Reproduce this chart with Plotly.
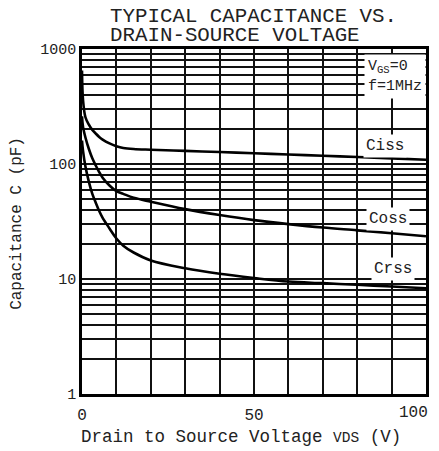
import math
import plotly.graph_objects as go

# ---- data ----
vds = [0, 0.3, 1, 2, 3, 4, 5, 6, 8, 10, 12, 15, 20, 30, 40, 50, 60, 70, 80, 90, 100]
ciss = [650, 360, 255, 220, 198, 184, 172, 163, 151, 143, 138, 135, 133, 130, 127, 124, 121, 118, 115, 112, 109]
coss = [260, 210, 170, 135, 112, 97, 85, 76, 65, 58, 55, 51, 47, 40.5, 36, 32.5, 30, 28, 26.5, 25, 23.5]
crss = [160, 130, 95, 70, 55, 46, 39, 34, 27.5, 22.5, 19.5, 17, 14.5, 12.4, 11.1, 10.2, 9.5, 9.2, 8.9, 8.6, 8.3]

y_tickvals = [m * 10 ** e for e in range(0, 3) for m in range(1, 10)] + [1000]
y_ticktext = [str(v) if v in (1, 10, 100, 1000) else "" for v in y_tickvals]
x_tickvals = list(range(0, 101, 10))
x_ticktext = [str(v) if v in (0, 50) else "" for v in x_tickvals]
x_last_label = "100"

series_labels = ["Ciss", "Coss", "Crss"]
label_pos = [(88, 143), (89, 33), (90.5, 12.2)]

FONT = "Liberation Mono, Courier New, monospace"

# page is rendered with an 8px body margin, so compensate
fig = go.Figure()
for name, vals in zip(series_labels, [ciss, coss, crss]):
    fig.add_trace(go.Scatter(x=vds, y=vals, mode="lines", name=name,
                             line=dict(color="black", width=2.6, shape="spline", smoothing=1.0),
                             showlegend=False, hoverinfo="skip"))

fig.update_layout(
    width=431, height=443,
    margin=dict(l=74, r=13, t=41, b=57, autoexpand=False),
    paper_bgcolor="white", plot_bgcolor="white",
    font=dict(family=FONT, color="black", size=15),
)
fig.update_xaxes(range=[0, 100], tickvals=x_tickvals, ticktext=x_ticktext, automargin=False,
                 showgrid=True, gridcolor="#111", gridwidth=1.6,
                 showline=True, linecolor="black", linewidth=2.5, mirror=True,
                 ticks="outside", ticklen=4, tickcolor="rgba(0,0,0,0)",
                 tickfont=dict(size=16, family=FONT, color="#222"), zeroline=False)
fig.update_yaxes(type="log", range=[0, 3], tickvals=y_tickvals, ticktext=y_ticktext, automargin=False,
                 showgrid=True, gridcolor="#111", gridwidth=1.6,
                 showline=True, linecolor="black", linewidth=2.5, mirror=True,
                 ticks="", tickfont=dict(size=15, family=FONT, color="#222"), zeroline=False)

# last x tick label, kept inside the visible page
fig.add_annotation(x=x_tickvals[-1], y=(394 - 413) / 345, xref="x", yref="paper",
                   xanchor="right", yanchor="middle", xshift=4, text=x_last_label,
                   showarrow=False, font=dict(size=16, family=FONT, color="#222"))

for name, (lx, ly) in zip(series_labels, label_pos):
    fig.add_annotation(x=lx, y=math.log10(ly), xref="x", yref="y", text=name,
                       showarrow=False, bgcolor="white", borderpad=2, yanchor="middle",
                       font=dict(size=16, family=FONT, color="#222"))

fig.add_annotation(x=1.0, y=0.985, xref="paper", yref="paper", xanchor="right", yanchor="top",
                   text="V<sub>GS</sub>=0<br>f=1MHz", align="left", showarrow=False,
                   bgcolor="white", borderpad=3, font=dict(size=15, family=FONT, color="#222"))

fig.add_annotation(x=(108 - 82) / 344, y=(394 - 16) / 345, xref="paper", yref="paper",
                   xanchor="left", yanchor="middle", text="TYPICAL CAPACITANCE VS.",
                   showarrow=False, font=dict(size=20.8, family=FONT, color="#222"))
fig.add_annotation(x=(108 - 82) / 344, y=(394 - 35) / 345, xref="paper", yref="paper",
                   xanchor="left", yanchor="middle", text="DRAIN-SOURCE VOLTAGE",
                   showarrow=False, font=dict(size=20.8, family=FONT, color="#222"))

fig.add_annotation(x=-0.189, y=0.496, xref="paper", yref="paper", textangle=-90,
                   xanchor="center", yanchor="middle",
                   text="Capacitance C (pF)", showarrow=False,
                   font=dict(size=16, family=FONT, color="#222"))
fig.add_annotation(x=(241 - 82) / 344, y=(394 - 437) / 345, xref="paper", yref="paper",
                   xanchor="center", yanchor="middle",
                   text="Drain to Source Voltage <span style='font-size:14.5px'>VDS</span> (V)",
                   showarrow=False, font=dict(size=17.5, family=FONT, color="#222"))

fig.write_html("out.html")
